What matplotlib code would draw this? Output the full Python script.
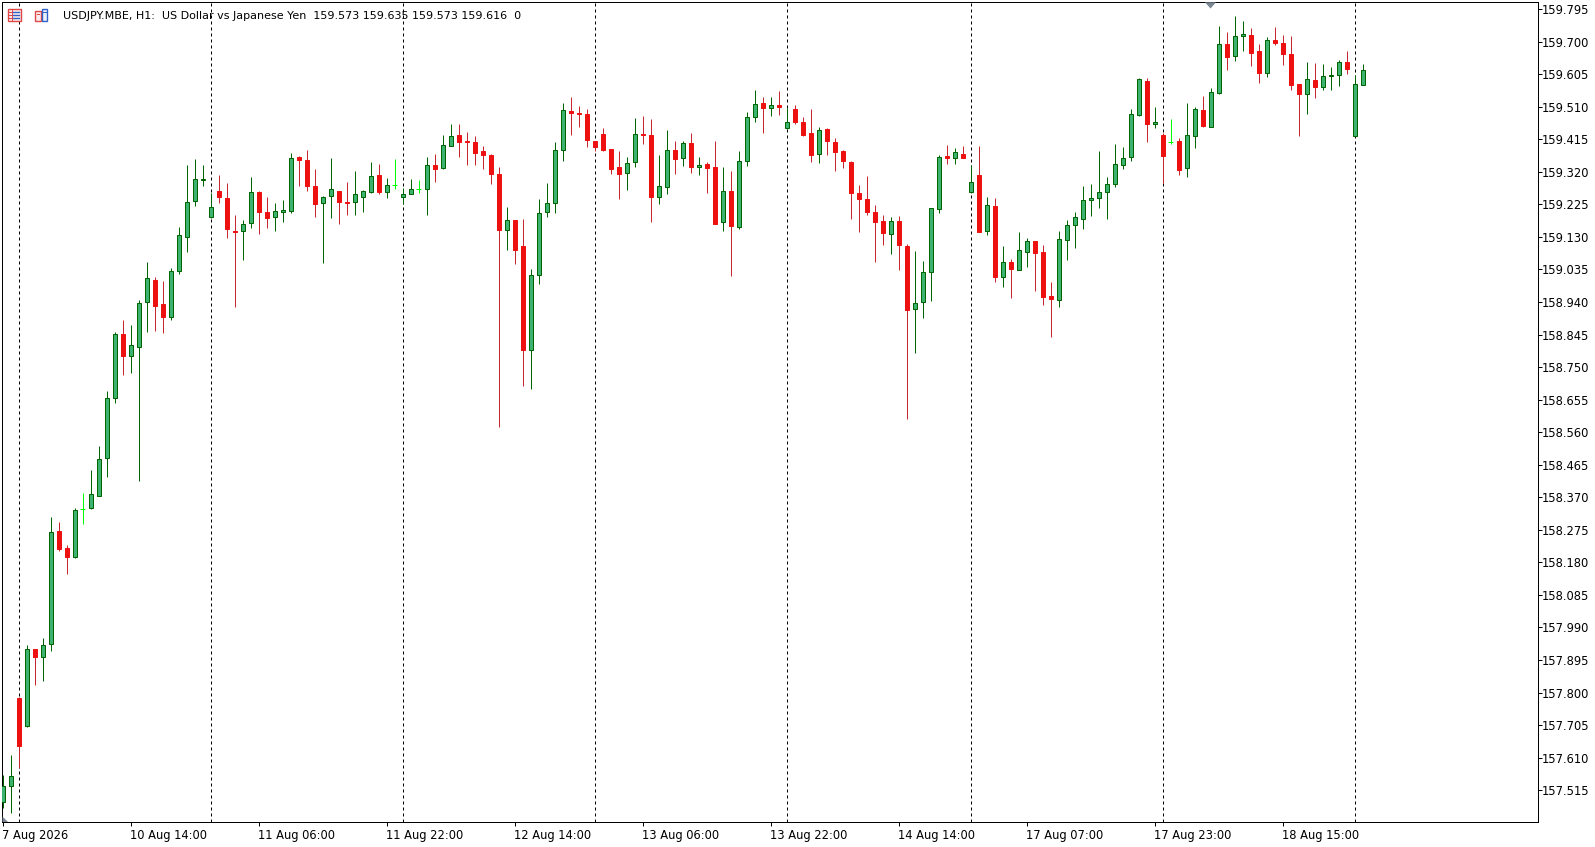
import matplotlib
matplotlib.use("Agg")
import matplotlib.pyplot as plt
from matplotlib.patches import Rectangle, Polygon
from matplotlib.lines import Line2D
import matplotlib.transforms as mtransforms

# ---------------- data (USDJPY H1) ----------------
opens = [157.480, 157.528, 157.784, 157.701, 157.926, 157.903, 157.941, 158.271, 158.222, 158.195,
         158.335, 158.338, 158.375, 158.484, 158.659, 158.846, 158.783, 158.810, 158.939, 159.003,
         158.933, 158.897, 159.030, 159.131, 159.234, 159.295, 159.187, 159.263, 159.243, 159.147,
         159.147, 159.170, 159.260, 159.202, 159.187, 159.202, 159.205, 159.362, 159.353, 159.278,
         159.228, 159.248, 159.263, 159.233, 159.231, 159.246, 159.262, 159.310, 159.260, 159.281,
         159.246, 159.254, 159.269, 159.271, 159.339, 159.332, 159.394, 159.426, 159.410, 159.406,
         159.380, 159.368, 159.313, 159.149, 159.178, 159.103, 158.799, 159.018, 159.202, 159.228,
         159.383, 159.496, 159.491, 159.488, 159.410, 159.430, 159.386, 159.333, 159.316, 159.348,
         159.431, 159.426, 159.246, 159.275, 159.383, 159.359, 159.403, 159.335, 159.342, 159.333,
         159.174, 159.263, 159.160, 159.351, 159.479, 159.520, 159.505, 159.515, 159.447, 159.502,
         159.464, 159.432, 159.371, 159.444, 159.406, 159.380, 159.348, 159.257, 159.240, 159.202,
         159.175, 159.138, 159.175, 159.103, 158.919, 158.939, 159.027, 159.210, 159.365, 159.359,
         159.371, 159.262, 159.310, 159.148, 159.219, 159.014, 159.056, 159.034, 159.087, 159.117,
         159.085, 158.956, 158.947, 159.122, 159.166, 159.183, 159.237, 159.243, 159.262, 159.285,
         159.339, 159.362, 159.485, 159.584, 159.459, 159.427, 159.407, 159.410, 159.330, 159.425,
         159.500, 159.452, 159.551, 159.693, 159.659, 159.715, 159.719, 159.672, 159.607, 159.705,
         159.696, 159.664, 159.576, 159.548, 159.588, 159.568, 159.599, 159.602, 159.640, 159.425,
         159.573]
highs = [157.560, 157.618, 157.787, 157.939, 157.927, 157.958, 158.313, 158.298, 158.230, 158.338,
         158.383, 158.450, 158.520, 158.680, 158.851, 158.887, 158.873, 158.946, 159.057, 159.013,
         159.001, 159.039, 159.158, 159.340, 159.357, 159.340, 159.257, 159.311, 159.286, 159.194,
         159.179, 159.305, 159.264, 159.246, 159.229, 159.238, 159.375, 159.366, 159.384, 159.327,
         159.248, 159.360, 159.264, 159.290, 159.322, 159.266, 159.349, 159.343, 159.302, 159.357,
         159.272, 159.298, 159.295, 159.363, 159.372, 159.427, 159.459, 159.459, 159.436, 159.424,
         159.394, 159.371, 159.333, 159.217, 159.179, 159.182, 159.035, 159.241, 159.287, 159.406,
         159.521, 159.538, 159.512, 159.503, 159.411, 159.448, 159.386, 159.381, 159.363, 159.477,
         159.483, 159.474, 159.369, 159.442, 159.410, 159.410, 159.433, 159.363, 159.349, 159.410,
         159.334, 159.323, 159.381, 159.494, 159.559, 159.538, 159.538, 159.556, 159.505, 159.515,
         159.479, 159.503, 159.450, 159.447, 159.418, 159.383, 159.351, 159.280, 159.307, 159.222,
         159.193, 159.187, 159.190, 159.108, 159.088, 159.059, 159.214, 159.368, 159.398, 159.389,
         159.395, 159.339, 159.395, 159.246, 159.243, 159.103, 159.065, 159.143, 159.126, 159.118,
         159.105, 158.997, 159.146, 159.178, 159.202, 159.278, 159.283, 159.380, 159.304, 159.400,
         159.391, 159.502, 159.593, 159.593, 159.508, 159.432, 159.474, 159.419, 159.521, 159.509,
         159.541, 159.564, 159.745, 159.728, 159.775, 159.760, 159.740, 159.693, 159.713, 159.742,
         159.719, 159.716, 159.576, 159.640, 159.637, 159.635, 159.626, 159.646, 159.672, 159.602,
         159.635]
lows = [157.463, 157.448, 157.581, 157.699, 157.822, 157.835, 157.922, 158.214, 158.147, 158.194,
        158.293, 158.335, 158.374, 158.430, 158.644, 158.727, 158.734, 158.418, 158.853, 158.856,
        158.850, 158.887, 159.023, 159.087, 159.221, 159.279, 159.186, 159.230, 159.128, 158.926,
        159.063, 159.157, 159.139, 159.157, 159.148, 159.174, 159.199, 159.279, 159.264, 159.189,
        159.055, 159.186, 159.168, 159.195, 159.195, 159.203, 159.259, 159.256, 159.244, 159.270,
        159.227, 159.254, 159.259, 159.195, 159.291, 159.329, 159.394, 159.364, 159.341, 159.341,
        159.329, 159.285, 158.576, 159.093, 159.052, 158.696, 158.687, 158.993, 159.187, 159.201,
        159.352, 159.427, 159.452, 159.393, 159.381, 159.381, 159.314, 159.241, 159.266, 159.335,
        159.402, 159.174, 159.227, 159.256, 159.314, 159.338, 159.317, 159.312, 159.259, 159.168,
        159.148, 159.017, 159.154, 159.338, 159.466, 159.434, 159.484, 159.487, 159.444, 159.460,
        159.425, 159.349, 159.346, 159.370, 159.323, 159.332, 159.183, 159.145, 159.195, 159.058,
        159.107, 159.081, 159.034, 158.597, 158.792, 158.894, 158.944, 159.199, 159.342, 159.342,
        159.359, 159.259, 159.145, 159.136, 158.999, 158.985, 158.953, 159.034, 159.043, 158.973,
        158.932, 158.839, 158.926, 159.063, 159.098, 159.154, 159.192, 159.215, 159.183, 159.275,
        159.327, 159.351, 159.482, 159.406, 159.447, 159.286, 159.401, 159.312, 159.306, 159.390,
        159.451, 159.452, 159.548, 159.617, 159.644, 159.673, 159.630, 159.580, 159.597, 159.690,
        159.633, 159.560, 159.425, 159.489, 159.536, 159.560, 159.560, 159.571, 159.606, 159.424,
        159.573]
closes = [157.528, 157.556, 157.645, 157.926, 157.903, 157.938, 158.268, 158.220, 158.195, 158.333,
          158.335, 158.379, 158.481, 158.659, 158.846, 158.783, 158.814, 158.936, 159.009, 158.929,
          158.897, 159.030, 159.135, 159.231, 159.298, 159.299, 159.216, 159.246, 159.154, 159.143,
          159.167, 159.260, 159.202, 159.186, 159.205, 159.208, 159.359, 159.353, 159.278, 159.225,
          159.246, 159.269, 159.231, 159.230, 159.254, 159.263, 159.307, 159.262, 159.281, 159.281,
          159.254, 159.269, 159.269, 159.339, 159.329, 159.397, 159.424, 159.408, 159.407, 159.376,
          159.368, 159.313, 159.151, 159.178, 159.093, 158.801, 159.018, 159.199, 159.228, 159.383,
          159.499, 159.491, 159.488, 159.414, 159.393, 159.384, 159.329, 159.314, 159.345, 159.429,
          159.428, 159.247, 159.278, 159.383, 159.358, 159.403, 159.335, 159.339, 159.332, 159.168,
          159.263, 159.163, 159.351, 159.479, 159.517, 159.505, 159.514, 159.508, 159.464, 159.464,
          159.428, 159.368, 159.441, 159.409, 159.377, 159.351, 159.257, 159.240, 159.202, 159.173,
          159.140, 159.175, 159.105, 158.916, 158.936, 159.027, 159.213, 159.362, 159.359, 159.377,
          159.359, 159.289, 159.145, 159.222, 159.014, 159.056, 159.037, 159.091, 159.117, 159.084,
          158.955, 158.949, 159.123, 159.164, 159.187, 159.237, 159.243, 159.260, 159.283, 159.342,
          159.359, 159.488, 159.590, 159.459, 159.464, 159.367, 159.407, 159.326, 159.426, 159.503,
          159.454, 159.552, 159.693, 159.656, 159.716, 159.722, 159.667, 159.609, 159.704, 159.697,
          159.665, 159.574, 159.548, 159.590, 159.568, 159.599, 159.602, 159.640, 159.621, 159.575,
          159.616]

separator_bars = [2, 26, 50, 74, 98, 121, 145, 169]
time_tick_bars = [0, 16, 32, 48, 64, 80, 96, 112, 128, 144, 160]
time_tick_labels = ["7 Aug 2026", "10 Aug 14:00", "11 Aug 06:00", "11 Aug 22:00", "12 Aug 14:00",
                    "13 Aug 06:00", "13 Aug 22:00", "14 Aug 14:00", "17 Aug 07:00", "17 Aug 23:00",
                    "18 Aug 15:00"]
price_tick_labels = ["157.515", "157.610", "157.705", "157.800", "157.895", "157.990", "158.085",
                     "158.180", "158.275", "158.370", "158.465", "158.560", "158.655", "158.750",
                     "158.845", "158.940", "159.035", "159.130", "159.225", "159.320", "159.415",
                     "159.510", "159.605", "159.700", "159.795"]
header = "USDJPY.MBE, H1:  US Dollar vs Japanese Yen  159.573 159.635 159.573 159.616  0"

# ---------------- styling ----------------
BULL_FILL = "#3CB371"
BULL_LINE = "#006400"
BEAR_FILL = "#EE1111"
BEAR_LINE = "#C8262E"
DOJI = "#00FF00"
PX = 0.72  # one pixel in points at 100 dpi

W, H = 1595, 847
fig = plt.figure(figsize=(W / 100, H / 100), dpi=100)
fig.patch.set_facecolor("white")

def fx(px):
    return px / W

def fy(py):
    return 1 - py / H

ax_left, ax_right, ax_top, ax_bottom = 1.5, 1537.5, 2.3, 822.3
ax = fig.add_axes([fx(ax_left), fy(ax_bottom), (ax_right - ax_left) / W, (ax_bottom - ax_top) / H])
ax.set_facecolor("white")

bar_px = 8.0
first_bar_px = 2.8
ax.set_xlim((ax_left - first_bar_px) / bar_px, (ax_right - first_bar_px) / bar_px)
ax.set_ylim(157.4214, 159.8146)

body_w = 0.5
for i, (o, h, l, c) in enumerate(zip(opens, highs, lows, closes)):
    if c > o:
        ax.vlines(i, l, h, color=BULL_LINE, lw=PX, zorder=2)
        ax.add_patch(Rectangle((i - body_w / 2, o), body_w, c - o, facecolor=BULL_FILL,
                               edgecolor=BULL_LINE, lw=PX, zorder=3))
    elif c < o:
        ax.vlines(i, l, h, color=BEAR_LINE, lw=PX, zorder=2)
        ax.add_patch(Rectangle((i - body_w / 2, c), body_w, o - c, facecolor=BEAR_FILL,
                               edgecolor=BEAR_FILL, lw=PX, zorder=3))
    else:
        ax.vlines(i, l, h, color=DOJI, lw=PX, zorder=2)
        ax.hlines(o, i - 0.3125, i + 0.3125, color=DOJI, lw=PX, zorder=3)

for b in separator_bars:
    ax.axvline(b, color="black", lw=PX, ls=(0, (3, 3)), zorder=1)

# spines
for s in ax.spines.values():
    s.set_linewidth(PX)
    s.set_color("black")

# price axis on the right
ax.yaxis.tick_right()
ax.set_yticks([float(t) for t in price_tick_labels])
ax.set_yticklabels(price_tick_labels)
ax.tick_params(axis="y", which="major", right=True, left=False, length=2.8, width=PX,
               pad=0.6, labelsize=8.3, colors="black")

# time axis
ax.set_xticks(time_tick_bars)
ax.set_xticklabels(time_tick_labels)
ax.tick_params(axis="x", which="major", bottom=True, length=2.9, width=PX, pad=1.6,
               labelsize=8.3, colors="black")
offset = mtransforms.ScaledTranslation(-0.5 / 100, 0, fig.dpi_scale_trans)
for lab in ax.get_xticklabels():
    lab.set_horizontalalignment("left")
    lab.set_transform(lab.get_transform() + offset)

# header text
fig.text(fx(62.5), fy(16), header, fontsize=8.0, family="DejaVu Sans", va="center", ha="left",
         color="black")

# header icons
def px_rect(x0, y0, w, h, **kw):
    fig.add_artist(Rectangle((fx(x0), fy(y0 + h)), w / W, h / H, transform=fig.transFigure, **kw))

def px_line(x0, y0, x1, y1, **kw):
    fig.add_artist(Line2D([fx(x0), fx(x1)], [fy(y0), fy(y1)], transform=fig.transFigure, **kw))

RED_ICON = "#E04848"
BLUE_ICON = "#2F62C8"
# icon 1: list window
px_rect(7.5, 9.5, 13, 12, facecolor="#FDECEC", edgecolor=RED_ICON, lw=1.0)
px_line(11.5, 10, 11.5, 21, color=RED_ICON, lw=PX)
for yy in (12.5, 15.5, 18.5):
    px_line(8.5, yy, 10.5, yy, color=RED_ICON, lw=PX)
    px_line(13, yy, 19, yy, color=BLUE_ICON, lw=1.0)
# icon 2: chart window
px_rect(34.5, 11.5, 6.5, 10, facecolor="#FDECEC", edgecolor=RED_ICON, lw=1.0)
px_line(36.5, 14.5, 39, 14.5, color=RED_ICON, lw=PX)
px_rect(41.5, 9.0, 5.5, 12.5, facecolor="#EAF1FC", edgecolor=BLUE_ICON, lw=1.0)
px_line(43, 12, 45.5, 12, color=BLUE_ICON, lw=PX)

# grey markers
fig.add_artist(Polygon([[fx(1205), fy(2.3)], [fx(1216), fy(2.3)], [fx(1210.5), fy(8.5)]],
                       closed=True, facecolor="#7A8793", edgecolor="none", transform=fig.transFigure))
fig.add_artist(Polygon([[fx(2.5), fy(822)], [fx(8), fy(822)], [fx(2.5), fy(816.5)]],
                       closed=True, facecolor="#7A8793", edgecolor="none", transform=fig.transFigure))

# window bottom border
fig.add_artist(Line2D([0, 1], [fy(846.5), fy(846.5)], transform=fig.transFigure, color="black", lw=PX))

fig.savefig("out.png", dpi=100, facecolor="white")
